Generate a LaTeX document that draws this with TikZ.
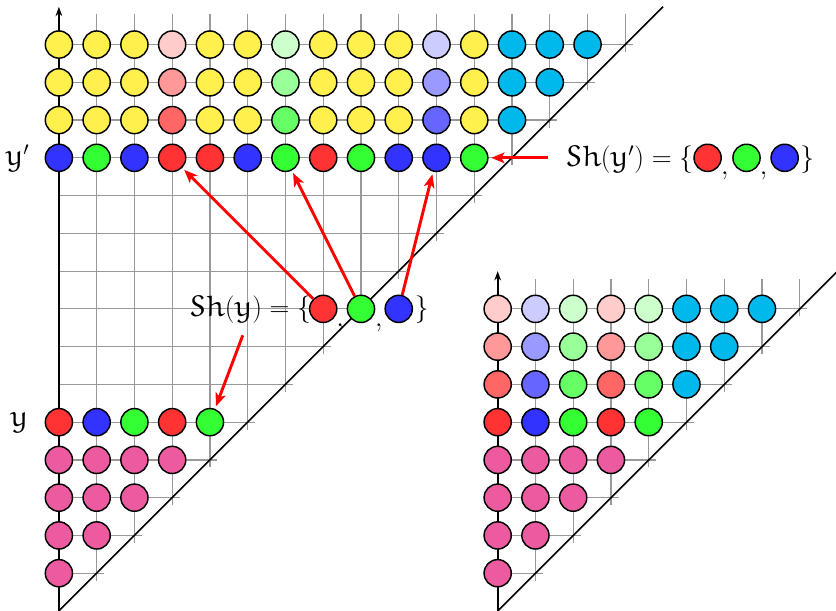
\documentclass[tikz,border=0pt]{standalone}
\usepackage{amsfonts}
\DeclareMathAlphabet{\mathe}{U}{eur}{m}{n}
\usetikzlibrary{arrows.meta,calc}
\definecolor{cY}{HTML}{FFF04D}
\definecolor{cC}{HTML}{00B9EC}
\definecolor{cP}{HTML}{EC5BA0}
\colorlet{cR}{red!80}\colorlet{cR6}{red!60}\colorlet{cR4}{red!40}\colorlet{cR2}{red!20}
\colorlet{cG}{green!80}\colorlet{cG6}{green!60}\colorlet{cG4}{green!40}\colorlet{cG2}{green!20}
\colorlet{cB}{blue!80}\colorlet{cB6}{blue!60}\colorlet{cB4}{blue!40}\colorlet{cB2}{blue!20}
\begin{document}
\begin{tikzpicture}[
  dot/.style={circle,draw=black,line width=1.1pt,minimum size=0.72cm,inner sep=0pt},
  gridline/.style={black!40,line width=0.9pt},
  axisline/.style={line width=1.5pt,-{Stealth[length=7pt,width=5pt]}},
  diagline/.style={line width=1.2pt},
  redarrow/.style={red,line width=2.2pt,-{Stealth[length=10pt,width=8pt,inset=2.5pt]},shorten >=2pt},
  lbl/.style={font=\fontsize{22.5}{27}\selectfont,inner sep=0pt}
]
\useasboundingbox (-1.56,-1.0) rectangle (20.58,15.18);
% ---------- left diagram ----------
\foreach \j in {0,...,14} {\draw[gridline] (0,\j) -- ({\j+1.2},\j);}
\foreach \i in {1,...,15} {\draw[gridline] (\i,{\i-1.2}) -- (\i,14.8);}
\draw[diagline] (0,-1) -- (16,15);
\draw[axisline] (0,-1) -- (0,15);
\foreach \j in {0,...,3} {\foreach \i in {0,...,\j} {\node[dot,fill=cP] (L-\j-\i) at (\i,\j) {};}}
\foreach \c [count=\i from 0] in {cR,cB,cG,cR,cG} {\node[dot,fill=\c] (L-4-\i) at (\i,4) {};}
\foreach \c [count=\i from 0] in {cB,cG,cB,cR,cR,cB,cG,cR,cG,cB,cB,cG} {\node[dot,fill=\c] (L-11-\i) at (\i,11) {};}
\foreach \c [count=\i from 0] in {cY,cY,cY,cR6,cY,cY,cG6,cY,cY,cY,cB6,cY,cC} {\node[dot,fill=\c] (L-12-\i) at (\i,12) {};}
\foreach \c [count=\i from 0] in {cY,cY,cY,cR4,cY,cY,cG4,cY,cY,cY,cB4,cY,cC,cC} {\node[dot,fill=\c] (L-13-\i) at (\i,13) {};}
\foreach \c [count=\i from 0] in {cY,cY,cY,cR2,cY,cY,cG2,cY,cY,cY,cB2,cY,cC,cC,cC} {\node[dot,fill=\c] (L-14-\i) at (\i,14) {};}
\node[lbl] (ly) at (-1.05,4) {$\mathe{y}$};
\node[lbl] (lyp) at (-1.1,11) {$\mathe{y}'$};
% ---------- right diagram ----------
\begin{scope}[xshift=11.62cm]
\foreach \j in {0,...,7} {\draw[gridline] (0,\j) -- ({\j+1.2},\j);}
\foreach \i in {1,...,8} {\draw[gridline] (\i,{\i-1.2}) -- (\i,7.8);}
\draw[diagline] (0,-1) -- (9,8);
\draw[axisline] (0,-1) -- (0,8);
\foreach \j in {0,...,3} {\foreach \i in {0,...,\j} {\node[dot,fill=cP] (R-\j-\i) at (\i,\j) {};}}
\foreach \c [count=\i from 0] in {cR,cB,cG,cR,cG} {\node[dot,fill=\c] (R-4-\i) at (\i,4) {};}
\foreach \c [count=\i from 0] in {cR6,cB6,cG6,cR6,cG6,cC} {\node[dot,fill=\c] (R-5-\i) at (\i,5) {};}
\foreach \c [count=\i from 0] in {cR4,cB4,cG4,cR4,cG4,cC,cC} {\node[dot,fill=\c] (R-6-\i) at (\i,6) {};}
\foreach \c [count=\i from 0] in {cR2,cB2,cG2,cR2,cG2,cC,cC,cC} {\node[dot,fill=\c] (R-7-\i) at (\i,7) {};}
\end{scope}
% ---------- Sh(y) ----------
\node[dot,fill=cR] (s1) at (7,7) {};
\node[dot,fill=cG] (s2) at (8,7) {};
\node[dot,fill=cB] (s3) at (9,7) {};
\node[lbl,anchor=base east] (shy) at (6.68,6.80) {$\mathe{Sh}(\mathe{y})=\{$};
\node[lbl,anchor=base west] (sc1) at (7.34,6.53) {$,$};
\node[lbl,anchor=base west] (sc2) at (8.37,6.53) {$,$};
\node[lbl,anchor=base west] (srb) at (9.42,6.80) {$\}$};
% ---------- Sh(y') ----------
\node[dot,fill=cR] (t1) at (17.18,11) {};
\node[dot,fill=cG] (t2) at (18.21,11) {};
\node[dot,fill=cB] (t3) at (19.22,11) {};
\node[lbl,anchor=base east] (shyp) at (16.80,10.78) {$\mathe{Sh}(\mathe{y}')=\{$};
\node[lbl,anchor=base west] (tc1) at (17.53,10.55) {$,$};
\node[lbl,anchor=base west] (tc2) at (18.56,10.55) {$,$};
\node[lbl,anchor=base west] (trb) at (19.63,10.78) {$\}$};
% ---------- arrows ----------
\draw[redarrow] (s1) -- (L-11-3);
\draw[redarrow] (s2) -- (L-11-6);
\draw[redarrow] (s3) -- (L-11-10);
\coordinate (shyfoot) at (4.87,6.30);
\draw[redarrow] (shyfoot) -- (L-4-4);
\coordinate (shypfoot) at (12.95,11);
\draw[redarrow] (shypfoot) -- (L-11-11);
\end{tikzpicture}
\end{document}
